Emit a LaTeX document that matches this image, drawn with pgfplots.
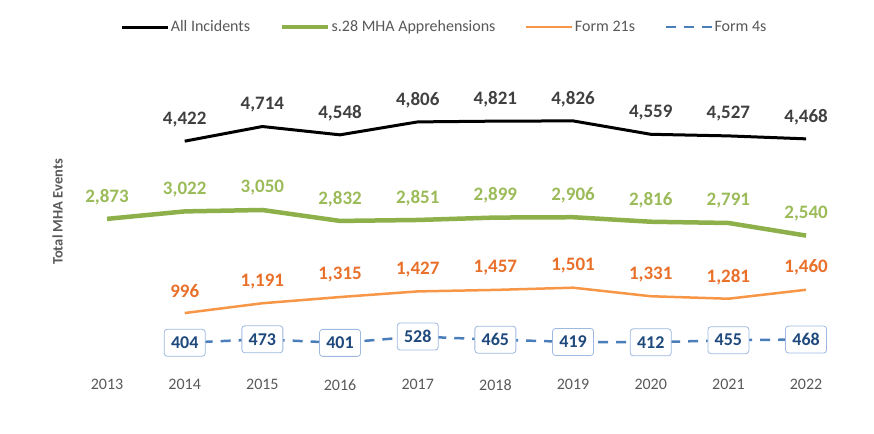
\documentclass[border=0pt]{standalone}
\usepackage{fontspec}
\setmainfont{Carlito}
\usepackage{pgfplots}
\pgfplotsset{compat=1.18}
\definecolor{lgreen}{HTML}{8DB04A}
\definecolor{labgreen}{HTML}{9BBB59}
\definecolor{lorange}{HTML}{F79646}
\definecolor{laborange}{HTML}{E8702A}
\definecolor{lblue}{HTML}{4A7EBB}
\definecolor{boxblue}{HTML}{9DB9E0}
\definecolor{navy}{HTML}{1F497D}
\definecolor{labgray}{HTML}{404040}
\definecolor{txtgray}{HTML}{595959}
\begin{document}
\begin{tikzpicture}
\useasboundingbox (-68.2bp,-71bp) rectangle (805.8bp,363bp);
\begin{axis}[
  at={(0,0)}, anchor=south west,
  scale only axis, width=776.7bp, height=301bp,
  xmin=-0.5, xmax=9.5, ymin=0, ymax=6000,
  axis line style={draw=none},
  major tick length=0pt,
  ytick=\empty,
  xtick={0,...,9},
  xticklabels={2013,2014,2015,2016,2017,2018,2019,2020,2021,2022},
  xticklabel style={font=\fontsize{16bp}{19bp}\selectfont, text=txtgray, yshift=-13bp},
  ylabel={Total MHA Events},
  ylabel style={at={(axis description cs:0,0.502)}, anchor=center, yshift=10.5bp, font=\fontsize{14.5bp}{17bp}\selectfont\bfseries, text=txtgray},
  /pgf/number format/assume math mode=true,
  legend style={draw=none, at={(0.484,1.116)}, anchor=center, legend columns=4,
    font=\fontsize{16bp}{19bp}\selectfont, text=txtgray, inner sep=0pt,
    nodes={inner sep=1.5bp},
    /tikz/every even column/.append style={column sep=28bp}},
  legend image code/.code={\draw[#1] (0bp,0bp) -- (46bp,0bp);},
  clip=false,
]
\addplot[black, line width=3bp, nodes near coords,
  every node near coord/.append style={font=\fontsize{19bp}{22bp}\selectfont\bfseries, text=labgray, anchor=center, yshift=22bp}]
  coordinates {(1,4422) (2,4714) (3,4548) (4,4806) (5,4821) (6,4826) (7,4559) (8,4527) (9,4468)};
\addlegendentry{All Incidents}
\addplot[lgreen, line width=4.5bp, nodes near coords,
  every node near coord/.append style={font=\fontsize{19bp}{22bp}\selectfont\bfseries, text=labgreen, anchor=center, yshift=22bp}]
  coordinates {(0,2873) (1,3022) (2,3050) (3,2832) (4,2851) (5,2899) (6,2906) (7,2816) (8,2791) (9,2540)};
\addlegendentry{s.28 MHA Apprehensions}
\addplot[lorange, line width=2.5bp, nodes near coords,
  every node near coord/.append style={font=\fontsize{19bp}{22bp}\selectfont\bfseries, text=laborange, anchor=center, yshift=22bp}]
  coordinates {(1,996) (2,1191) (3,1315) (4,1427) (5,1457) (6,1501) (7,1331) (8,1281) (9,1460)};
\addlegendentry{Form 21s}
\addplot[lblue, line width=2.5bp, dash pattern=on 10bp off 8bp, nodes near coords,
  every node near coord/.append style={font=\fontsize{18bp}{21bp}\selectfont\bfseries, text=navy, anchor=center,
    draw=boxblue, fill=white, rounded corners=3bp, minimum width=41bp, minimum height=27bp, line width=0.8bp, solid}]
  coordinates {(1,404) (2,473) (3,401) (4,528) (5,465) (6,419) (7,412) (8,455) (9,468)};
\addlegendentry{Form 4s}
\end{axis}
\end{tikzpicture}
\end{document}
